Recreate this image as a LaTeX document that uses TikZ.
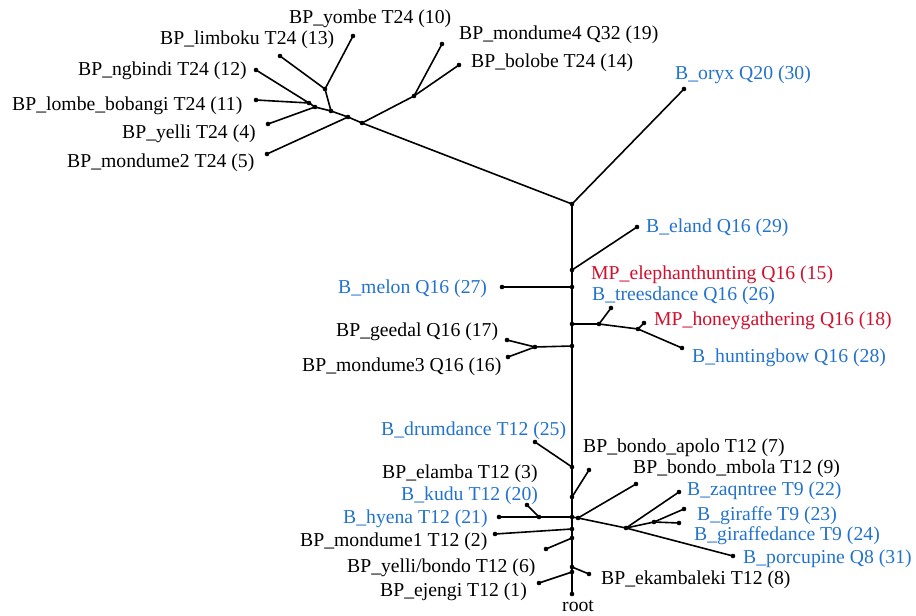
\documentclass[tikz,border=0pt]{standalone}
\usepackage{fontspec}
\setmainfont{Liberation Serif}
\definecolor{lblue}{RGB}{35,115,205}
\definecolor{lred}{RGB}{210,15,45}
\begin{document}
\begin{tikzpicture}[x=1pt,y=-1pt,
  edge/.style={line width=1.6pt},
  lbl/.style={anchor=base west,inner sep=0pt,font=\fontsize{19.7}{20}\selectfont},
  bl/.style={lbl,text=lblue},
  rd/.style={lbl,text=lred}]
\useasboundingbox (0,0) rectangle (916,616);
% top cluster
\coordinate (yombe) at (353,36);
\coordinate (limboku) at (280,56);
\coordinate (ngbindi) at (256,70);
\coordinate (lombe) at (256,100);
\coordinate (yelli) at (268,124);
\coordinate (mondumeII) at (267,154);
\coordinate (nA) at (325,89);
\coordinate (nB) at (309,103);
\coordinate (nC) at (315,107);
\coordinate (nD) at (331,111);
\coordinate (nE) at (348,117);
\coordinate (nF) at (362,123);
\coordinate (nG) at (414,96);
\coordinate (mondumeIV) at (442,44);
\coordinate (bolobe) at (459,65);
\coordinate (oryx) at (684,89);
% trunk
\coordinate (nH) at (572,204);
\coordinate (nI) at (572,270);
\coordinate (nJ) at (572,287);
\coordinate (nK) at (572,324);
\coordinate (nL) at (572,346);
\coordinate (nM) at (572,467);
\coordinate (nN) at (572,497);
\coordinate (hub) at (572,517);
\coordinate (nO) at (572,529);
\coordinate (nQ) at (572,538);
\coordinate (nX) at (572,567);
\coordinate (nY) at (572,572);
\coordinate (rootpt) at (572,594);
% middle
\coordinate (eland) at (637,227);
\coordinate (melon) at (502,287);
\coordinate (nP) at (599,324);
\coordinate (treesdance) at (611,308);
\coordinate (nQQ) at (638,329);
\coordinate (honey) at (644,323);
\coordinate (hunting) at (682,348);
\coordinate (nR) at (535,347);
\coordinate (geedal) at (507,340);
\coordinate (mondumeIII) at (508,357);
% bottom
\coordinate (drumdance) at (535,442);
\coordinate (apolo) at (589,470);
\coordinate (nV) at (539,517);
\coordinate (kudu) at (527,505);
\coordinate (hyena) at (499,517);
\coordinate (nS) at (578,518);
\coordinate (mbola) at (636,484);
\coordinate (nT) at (626,528);
\coordinate (zaqntree) at (679,492);
\coordinate (nU) at (654,522);
\coordinate (giraffe) at (684,509);
\coordinate (giraffedance) at (679,523);
\coordinate (porcupine) at (733,556);
\coordinate (mondumeI) at (495,534);
\coordinate (yellibondo) at (546,549);
\coordinate (ekambaleki) at (589,574);
\coordinate (ejengi) at (539,583);

\draw[edge] (yombe) -- (nA) -- (limboku);
\draw[edge] (nA) -- (nD);
\draw[edge] (ngbindi) -- (nB) -- (lombe);
\draw[edge] (nB) -- (nC) -- (yelli);
\draw[edge] (nC) -- (nD) -- (nE) -- (mondumeII);
\draw[edge] (nE) -- (nF) -- (nG) -- (mondumeIV);
\draw[edge] (nG) -- (bolobe);
\draw[edge] (nF) -- (nH) -- (oryx);
\draw[edge] (nH) -- (rootpt);
\draw[edge] (nI) -- (eland);
\draw[edge] (nJ) -- (melon);
\draw[edge] (nK) -- (nP) -- (treesdance);
\draw[edge] (nP) -- (nQQ) -- (honey);
\draw[edge] (nQQ) -- (hunting);
\draw[edge] (nL) -- (nR) -- (geedal);
\draw[edge] (nR) -- (mondumeIII);
\draw[edge] (nM) -- (drumdance);
\draw[edge] (nN) -- (apolo);
\draw[edge] (hub) -- (nV) -- (hyena);
\draw[edge] (nV) -- (kudu);
\draw[edge] (hub) -- (nS) -- (mbola);
\draw[edge] (nS) -- (nT) -- (zaqntree);
\draw[edge] (nT) -- (nU) -- (giraffe);
\draw[edge] (nU) -- (giraffedance);
\draw[edge] (nT) -- (porcupine);
\draw[edge] (nO) -- (mondumeI);
\draw[edge] (nQ) -- (yellibondo);
\draw[edge] (nX) -- (ekambaleki);
\draw[edge] (nY) -- (ejengi);

\foreach \p in {yombe,limboku,ngbindi,lombe,yelli,mondumeII,nA,nB,nC,nD,nE,nF,nG,mondumeIV,bolobe,oryx,
  nH,nI,nJ,nK,nL,nM,nN,hub,nO,nQ,nX,nY,rootpt,eland,melon,nP,treesdance,nQQ,honey,hunting,nR,geedal,mondumeIII,
  drumdance,apolo,nV,kudu,hyena,nS,mbola,nT,zaqntree,nU,giraffe,giraffedance,porcupine,mondumeI,yellibondo,ekambaleki,ejengi}
  \fill (\p) circle (2.3);

\node[lbl] (Lyombe) at (289,23) {BP\_yombe T24 (10)};
\node[lbl] (Llimboku) at (160,44) {BP\_limboku T24 (13)};
\node[lbl] (Lngbindi) at (78,75) {BP\_ngbindi T24 (12)};
\node[lbl] (Llombe) at (12,110) {BP\_lombe\_bobangi T24 (11)};
\node[lbl] (Lyelli) at (122,138) {BP\_yelli T24 (4)};
\node[lbl] (LmondumeII) at (67,167) {BP\_mondume2 T24 (5)};
\node[lbl] (LmondumeIV) at (459,39) {BP\_mondume4 Q32 (19)};
\node[lbl] (Lbolobe) at (471,67) {BP\_bolobe T24 (14)};
\node[bl] (Loryx) at (675,79) {B\_oryx Q20 (30)};
\node[bl] (Leland) at (646,232) {B\_eland Q16 (29)};
\node[rd] (Lelephant) at (591,279) {MP\_elephanthunting Q16 (15)};
\node[bl] (Ltrees) at (592,300) {B\_treesdance Q16 (26)};
\node[rd] (Lhoney) at (654,325) {MP\_honeygathering Q16 (18)};
\node[bl] (Lhunting) at (692,362) {B\_huntingbow Q16 (28)};
\node[bl] (Lmelon) at (338,293) {B\_melon Q16 (27)};
\node[lbl] (Lgeedal) at (336,336) {BP\_geedal Q16 (17)};
\node[lbl] (LmondumeIII) at (302,371) {BP\_mondume3 Q16 (16)};
\node[bl] (Ldrum) at (381,435) {B\_drumdance T12 (25)};
\node[lbl] (Lapolo) at (583,452) {BP\_bondo\_apolo T12 (7)};
\node[lbl] (Lmbola) at (633,473) {BP\_bondo\_mbola T12 (9)};
\node[lbl] (Lelamba) at (382,478) {BP\_elamba T12 (3)};
\node[bl] (Lkudu) at (401,500) {B\_kudu T12 (20)};
\node[bl] (Lzaqn) at (687,495) {B\_zaqntree T9 (22)};
\node[bl] (Lgiraffe) at (697,520) {B\_giraffe T9 (23)};
\node[bl] (Lhyena) at (343,523) {B\_hyena T12 (21)};
\node[bl] (Lgirdance) at (694,540) {B\_giraffedance T9 (24)};
\node[lbl] (LmondumeI) at (300,546) {BP\_mondume1 T12 (2)};
\node[bl] (Lporc) at (743,563) {B\_porcupine Q8 (31)};
\node[lbl] (Lyb) at (347,572) {BP\_yelli/bondo T12 (6)};
\node[lbl] (Lekam) at (601,584) {BP\_ekambaleki T12 (8)};
\node[lbl] (Lejengi) at (380,596) {BP\_ejengi T12 (1)};
\node[lbl] (Lroot) at (562,611) {root};
\end{tikzpicture}
\end{document}
